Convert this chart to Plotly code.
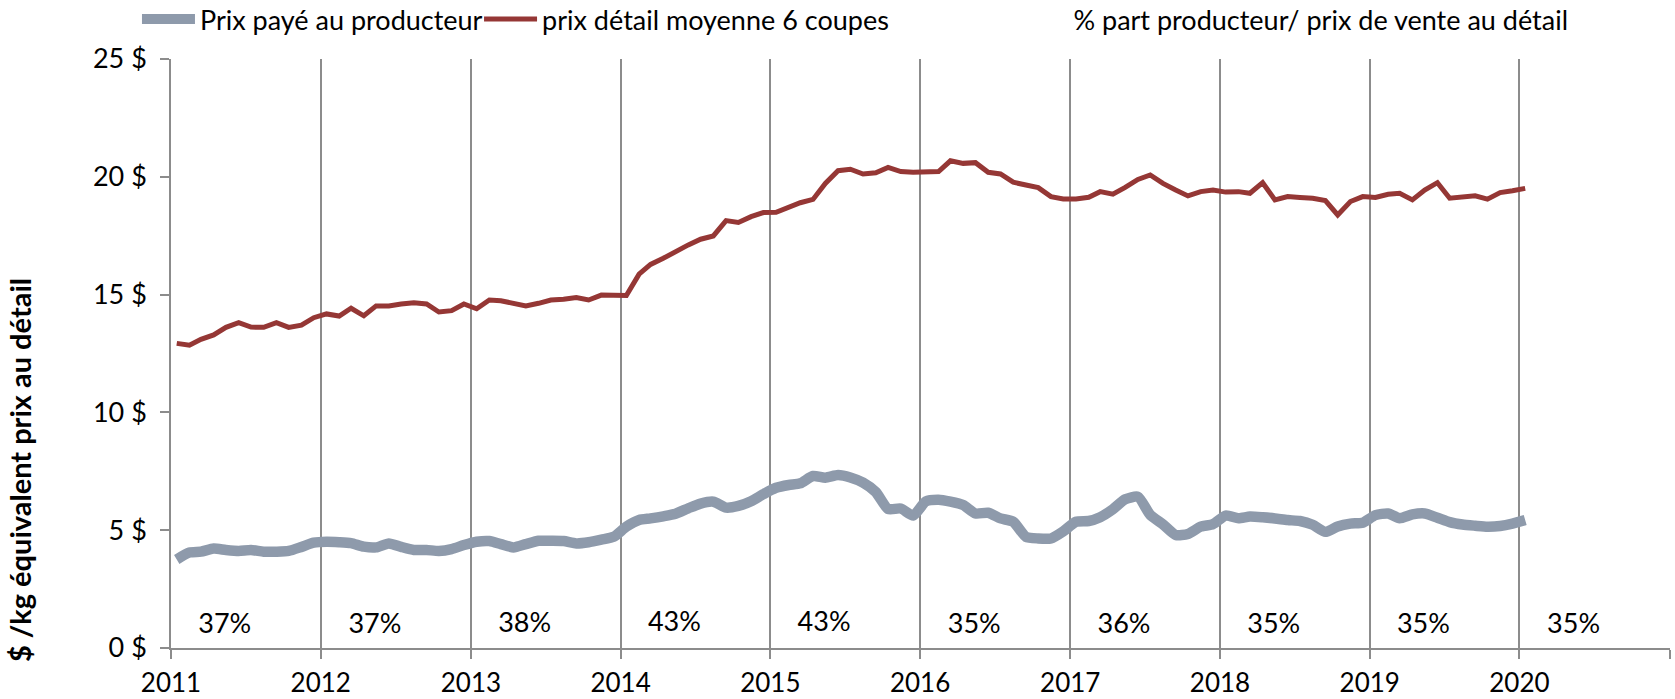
import pandas as pd
import plotly.graph_objects as go

# Monthly observations, Jan 2011 to Jan 2020 (mid-month)
months = pd.date_range("2011-01-01", "2020-01-01", freq="MS") + pd.Timedelta(days=14)

# Prix payé au producteur ($/kg équivalent détail)
producer = [
    3.76, 4.05, 4.09, 4.22, 4.16, 4.12, 4.16, 4.09, 4.09, 4.12, 4.29, 4.47,  # 2011
    4.51, 4.49, 4.45, 4.30, 4.27, 4.44, 4.29, 4.16, 4.16, 4.12, 4.20, 4.37,  # 2012
    4.51, 4.54, 4.41, 4.27, 4.41, 4.55, 4.55, 4.54, 4.44, 4.49, 4.60, 4.72,  # 2013
    5.15, 5.43, 5.50, 5.59, 5.70, 5.93, 6.13, 6.21, 5.96, 6.03, 6.23, 6.53,  # 2014
    6.80, 6.92, 6.99, 7.30, 7.23, 7.34, 7.24, 7.02, 6.62, 5.90, 5.92, 5.62,  # 2015
    6.22, 6.29, 6.21, 6.07, 5.71, 5.74, 5.50, 5.36, 4.72, 4.65, 4.65, 4.95,  # 2016
    5.36, 5.39, 5.55, 5.89, 6.31, 6.42, 5.65, 5.25, 4.80, 4.84, 5.15, 5.26,  # 2017
    5.62, 5.51, 5.58, 5.55, 5.50, 5.43, 5.39, 5.23, 4.93, 5.16, 5.28, 5.32,  # 2018
    5.64, 5.71, 5.51, 5.67, 5.71, 5.53, 5.34, 5.24, 5.19, 5.15, 5.18, 5.28,  # 2019
    5.43,                                                                    # 2020
]

# Prix de détail, moyenne de 6 coupes ($/kg)
retail = [
    12.93, 12.85, 13.10, 13.29, 13.61, 13.81, 13.62, 13.61, 13.81, 13.61, 13.70, 14.02,  # 2011
    14.18, 14.09, 14.42, 14.10, 14.52, 14.52, 14.60, 14.65, 14.60, 14.26, 14.32, 14.60,  # 2012
    14.40, 14.77, 14.74, 14.65, 14.52, 14.63, 14.77, 14.80, 14.88, 14.77, 14.98, 14.97,  # 2013
    14.96, 15.87, 16.28, 16.54, 16.85, 17.11, 17.35, 17.49, 18.14, 18.06, 18.31, 18.48,  # 2014
    18.49, 18.69, 18.90, 19.04, 19.72, 20.26, 20.32, 20.12, 20.17, 20.40, 20.22, 20.19,  # 2015
    20.19, 20.22, 20.68, 20.57, 20.60, 20.19, 20.12, 19.77, 19.65, 19.54, 19.16, 19.06,  # 2016
    19.06, 19.13, 19.37, 19.26, 19.55, 19.89, 20.08, 19.72, 19.44, 19.19, 19.37, 19.44,  # 2017
    19.35, 19.37, 19.30, 19.75, 19.02, 19.16, 19.12, 19.09, 18.99, 18.38, 18.95, 19.16,  # 2018
    19.12, 19.26, 19.30, 19.02, 19.44, 19.75, 19.09, 19.16, 19.19, 19.05, 19.33, 19.41,  # 2019
    19.51,                                                                                # 2020
]

# Part du producteur dans le prix de vente au détail, par année
share_years = list(range(2011, 2021))
share = [0.37, 0.37, 0.38, 0.43, 0.43, 0.35, 0.36, 0.35, 0.35, 0.35]
share_dates = [f"{y}-05-12" for y in share_years]

year_ticks = [f"{y}-01-01" for y in range(2011, 2022)]
year_labels = [str(y) for y in range(2011, 2021)] + [""]
price_ticks = [0, 5, 10, 15, 20, 25]
price_labels = [f"{v} $" for v in price_ticks]

FONT = "Lato"
SIZE = 27
GRID = "#8C8C8C"

fig = go.Figure()
fig.add_trace(go.Scatter(
    x=months, y=producer, mode="lines", name="Prix payé au producteur",
    line=dict(color="#8E9AAB", width=10.5, shape="spline", smoothing=0.6),
    legend="legend",
))
fig.add_trace(go.Scatter(
    x=months, y=retail, mode="lines", name="prix détail moyenne 6 coupes",
    line=dict(color="#953735", width=5),
    legend="legend2",
))
fig.add_trace(go.Scatter(
    x=share_dates, y=share, mode="lines+text",
    name="% part producteur/ prix de vente au détail",
    line=dict(color="rgba(0,0,0,0)", width=0),
    texttemplate="%{y:.0%}", textposition="top center",
    textfont=dict(family=FONT, size=SIZE, color="#000"),
    legend="legend3",
))

legend_common = dict(
    orientation="h", yanchor="middle", xanchor="left", y=1.067,
    itemwidth=53, bgcolor="rgba(0,0,0,0)",
    font=dict(family=FONT, size=SIZE, color="#000"),
)

fig.update_layout(
    width=1675, height=699,
    margin=dict(l=171, r=5, t=59, b=51, autoexpand=False),
    paper_bgcolor="white", plot_bgcolor="white",
    font=dict(family=FONT, size=SIZE, color="#000"),
    showlegend=True,
    legend=dict(x=-0.0227, **legend_common),
    legend2=dict(x=0.2055, **legend_common),
    legend3=dict(x=0.560, **legend_common),
    xaxis=dict(
        type="date", range=["2011-01-01", "2021-01-02"],
        tickmode="array", tickvals=year_ticks, ticktext=year_labels,
        tickfont=dict(family=FONT, size=26, color="#000"),
        showgrid=True, gridcolor=GRID, gridwidth=1.5,
        ticks="outside", ticklen=9, tickwidth=1.5, tickcolor=GRID,
        showline=True, linecolor=GRID, linewidth=1.5, zeroline=False,
        ticklabelstandoff=2, automargin=False,
    ),
    yaxis=dict(
        range=[0, 25], tickmode="array", tickvals=price_ticks, ticktext=price_labels,
        showgrid=False, zeroline=False,
        ticks="outside", ticklen=9, tickwidth=1.5, tickcolor=GRID,
        showline=True, linecolor=GRID, linewidth=1.5,
        ticklabelstandoff=8, automargin=False,
    ),
    annotations=[dict(
        text="<b>$ /kg équivalent prix au détail</b>",
        xref="paper", yref="paper", x=-0.1014, y=0.302,
        xanchor="center", yanchor="middle", textangle=-90, showarrow=False,
        font=dict(family=FONT, size=29, color="#000"),
    )],
)

fig.write_html("out.html")
